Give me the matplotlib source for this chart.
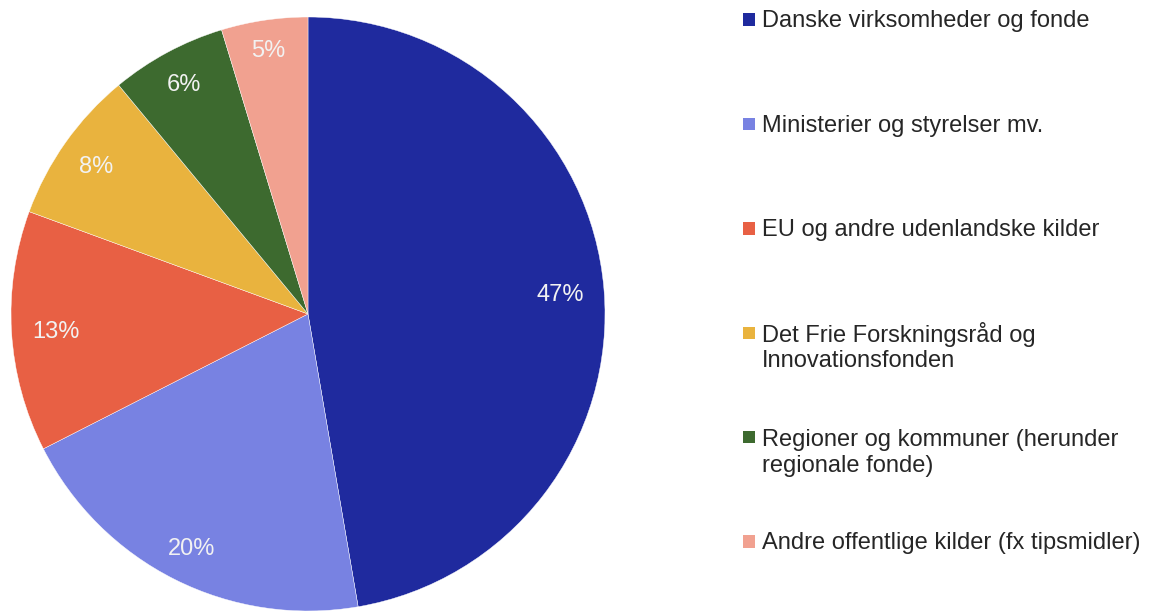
import matplotlib
matplotlib.use("Agg")
import numpy as np
import matplotlib.pyplot as plt
from matplotlib.patches import Rectangle

plt.rcParams['font.family'] = ['Liberation Sans', 'DejaVu Sans']

# andele af finansiering (aflæst fra figuren, i procent)
kilder = [
    "Danske virksomheder og fonde",
    "Ministerier og styrelser mv.",
    "EU og andre udenlandske kilder",
    "Det Frie Forskningsråd og\nInnovationsfonden",
    "Regioner og kommuner (herunder\nregionale fonde)",
    "Andre offentlige kilder (fx tipsmidler)",
]
andele = [47.3, 20.2, 13.1, 8.4, 6.3, 4.7]
farver = ["#1F2A9E", "#7882E2", "#E86044", "#E9B33E", "#3D6A2F", "#F1A190"]

W, H = 1152, 612
fig = plt.figure(figsize=(W / 100, H / 100), dpi=100)

# lagkage - centrum ca. (308, 314) px, radius ca. 297 px
cx, cy, r = 308, 314, 297
ax = fig.add_axes([(cx - r) / W, (H - cy - r) / H, 2 * r / W, 2 * r / H])
wedges, _, pct = ax.pie(andele, colors=farver, startangle=90, counterclock=False,
                        autopct='%.0f%%', pctdistance=0.87, radius=1,
                        wedgeprops=dict(edgecolor='white', linewidth=0.3),
                        textprops=dict(color='#F2F2F2', fontsize=17))
ax.set_xlim(-1, 1)
ax.set_ylim(-1, 1)
ax.set_aspect('equal')
ax.axis('off')

# procent-etiketter: kanten af teksten ca. 20 px inde fra cirklens rand
renderer = fig.canvas.get_renderer()
for w, t in zip(wedges, pct):
    t.set_va('center_baseline')
    bb = t.get_window_extent(renderer)
    vinkel = np.deg2rad((w.theta1 + w.theta2) / 2)
    ux, uy = np.cos(vinkel), np.sin(vinkel)
    d = r - 20 - (abs(ux) * bb.width / 2 + abs(uy) * bb.height * 0.3)
    t.set_position((d / r * ux, d / r * uy))

# forklaring (tegnet manuelt for at ramme afstandene)
for i, (navn, farve) in enumerate(zip(kilder, farver)):
    yc = 19.5 + i * 104.4  # midten af første linje, px fra toppen
    n = navn.count("\n")
    fig.patches.append(Rectangle((743 / W, 1 - (yc + 6.2) / H), 12.4 / W, 12.4 / H,
                                 facecolor=farve, edgecolor='none',
                                 transform=fig.transFigure, figure=fig))
    fig.text(762 / W, 1 - (yc + 8 + n * 26.5) / H, navn, fontsize=17, color='#262626',
             va='baseline', ha='left', linespacing=1.2)

fig.savefig("out.png", dpi=100)
